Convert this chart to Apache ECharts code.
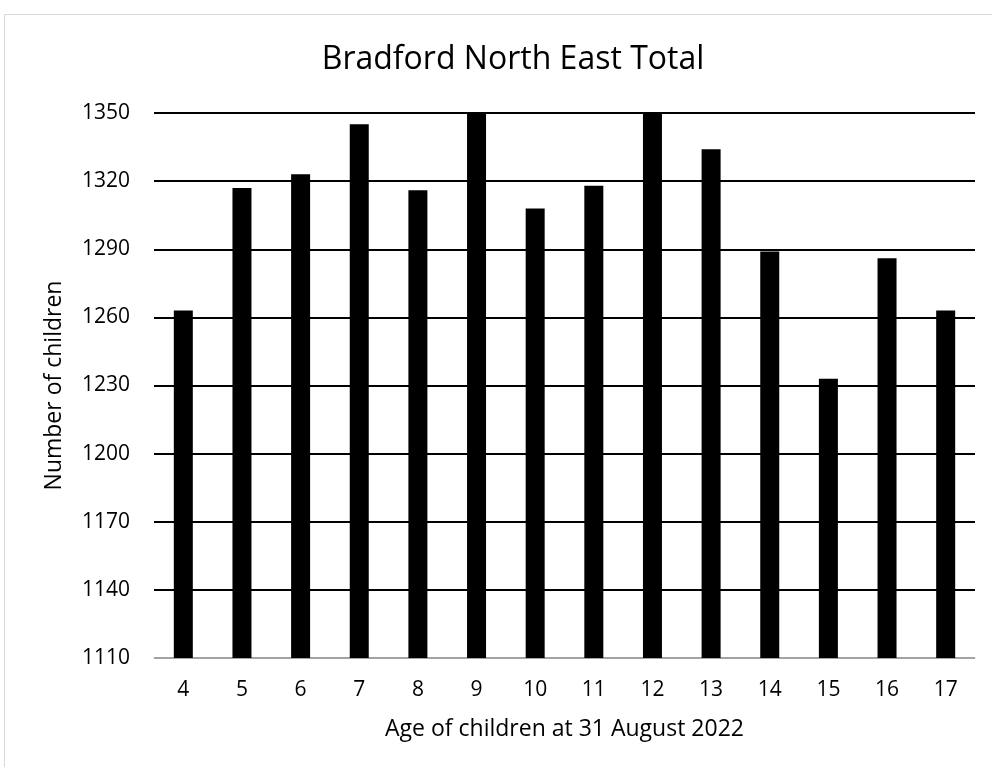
<!DOCTYPE html>
<html><head><meta charset="utf-8">
<script src="https://cdn.jsdelivr.net/npm/echarts@6/dist/echarts.min.js"></script>
<style>
html,body{margin:0;padding:0;background:#fff;}
#frame{position:absolute;left:4px;top:14px;width:1000px;height:800px;border:1px solid #d9d9d9;box-sizing:border-box;}
#c{position:absolute;left:0;top:0;width:992px;height:767px;}
</style></head>
<body>
<div id="frame"></div>
<div id="c"></div>
<script>
const categories = ['4','5','6','7','8','9','10','11','12','13','14','15','16','17'];
const values = [1263,1317,1323,1345,1316,1350,1308,1318,1350,1334,1289,1233,1286,1263];
const yTicks = {min:1110, max:1350, interval:30};
const font = '"Open Sans", "Noto Sans", sans-serif';
const chart = echarts.init(document.getElementById('c'), null, {renderer:'canvas'});
chart.setOption({
  animation:false,
  backgroundColor:'transparent',
  title:{text:'Bradford North East Total',left:508,top:39,textAlign:'center',
    textStyle:{fontFamily:font,fontSize:32,fontWeight:'normal',color:'#000'}},
  grid:{left:154,right:17,top:113,bottom:109},
  xAxis:{type:'category',data:categories,
    axisLine:{lineStyle:{color:'#d9d9d9',width:1.5}},axisTick:{show:false},
    axisLabel:{fontFamily:font,fontSize:21,color:'#000',margin:22},
    name:'Age of children at 31 August 2022',nameLocation:'middle',nameGap:60,
    nameTextStyle:{fontFamily:font,fontSize:23,color:'#000'}},
  yAxis:{type:'value',min:yTicks.min,max:yTicks.max,interval:yTicks.interval,
    axisLine:{show:false},axisTick:{show:false},
    axisLabel:{fontFamily:font,fontSize:21,color:'#000',margin:24,formatter:v=>String(v)},
    splitLine:{lineStyle:{color:'#000',width:2}},
    name:'Number of children',nameLocation:'middle',nameGap:88,
    nameTextStyle:{fontFamily:font,fontSize:23,color:'#000'}},
  series:[{type:'bar',data:values,barWidth:19,itemStyle:{color:'#000'},z:3}]
});
</script>
</body></html>
